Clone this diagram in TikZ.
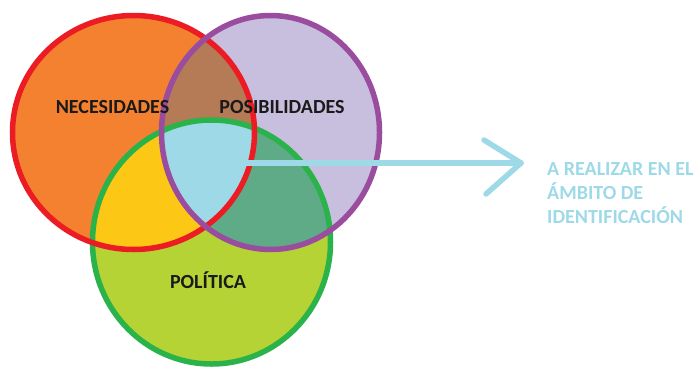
\documentclass[tikz,border=0pt]{standalone}
\usepackage{fontspec}
\setmainfont{Carlito}
\definecolor{cRedFill}{HTML}{F4812F}
\definecolor{cPurFill}{HTML}{C8BEDD}
\definecolor{cGrnFill}{HTML}{B5D334}
\definecolor{cRP}{HTML}{B57A56}
\definecolor{cRG}{HTML}{FDC716}
\definecolor{cPG}{HTML}{5FAB87}
\definecolor{cAll}{HTML}{9ED9E8}
\definecolor{cRedLine}{HTML}{EC1C24}
\definecolor{cPurLine}{HTML}{9A4D9E}
\definecolor{cGrnLine}{HTML}{2AB24B}
\definecolor{cLabel}{HTML}{1A1A1A}
\definecolor{cArrow}{HTML}{9ED9E8}
\begin{document}
\begin{tikzpicture}[x=1pt,y=-1pt,
  lbl/.style={font=\bfseries\fontsize{20}{24}\selectfont, text=cLabel, inner sep=0pt},
  note/.style={font=\bfseries\fontsize{20}{24}\selectfont, text=cArrow, inner sep=0pt, align=left, anchor=north west},
  ring/.style={line width=5.5pt},
  arrowline/.style={draw=cArrow, line width=5.5pt, line cap=round, line join=round}]
\useasboundingbox (0,0) rectangle (695,367);
\def\redpath{(133.5,132.5) ellipse [x radius=121pt, y radius=117pt]}
\def\purpath{(270.5,132.5) ellipse [x radius=109pt, y radius=117pt]}
\def\grnpath{(211.5,242) ellipse [x radius=119pt, y radius=122pt]}
% base fills
\fill[cRedFill] \redpath;
\fill[cPurFill] \purpath;
\fill[cGrnFill] \grnpath;
% pairwise intersections
\begin{scope}\clip \redpath; \fill[cRP] \purpath; \end{scope}
\begin{scope}\clip \redpath; \fill[cRG] \grnpath; \end{scope}
\begin{scope}\clip \purpath; \fill[cPG] \grnpath; \end{scope}
\begin{scope}\clip \redpath; \clip \purpath; \fill[cAll] \grnpath; \end{scope}
% outlines
\draw[ring, cGrnLine] \grnpath;
\draw[ring, cRedLine] \redpath;
\draw[ring, cPurLine] \purpath;
% labels
\node[lbl] (nec) at (112.5,107) {NECESIDADES};
\node[lbl] (pos) at (282,107) {POSIBILIDADES};
\node[lbl] (pol) at (208,280) {POLÍTICA};
% arrow
\coordinate (astart) at (246,163);
\coordinate (atip) at (521,163);
\draw[arrowline] (astart) -- (atip);
\draw[arrowline] (atip) ++(-37,-23) -- (atip) -- ++(-35,31);
\node[note] (txt) at (547,162) {A REALIZAR EN EL\\ÁMBITO DE\\IDENTIFICACIÓN};
\end{tikzpicture}
\end{document}
